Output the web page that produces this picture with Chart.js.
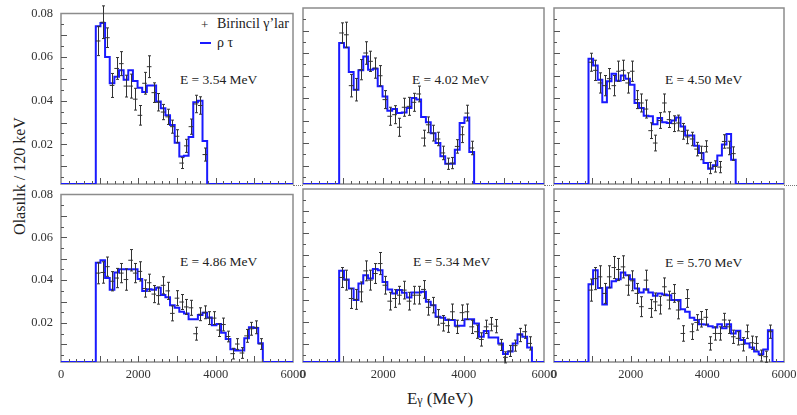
<!DOCTYPE html>
<html>
<head>
<meta charset="utf-8">
<script src="https://cdn.jsdelivr.net/npm/chart.js@4.4.0/dist/chart.umd.min.js"></script>
<style>
body { margin: 0; background: #fff; width: 797px; height: 415px; position: relative; overflow: hidden; font-family: "Liberation Serif", serif; color: #222; }
canvas { position: absolute; }
.lbl { position: absolute; white-space: nowrap; line-height: 1; transform: translateY(-50%); }
.dot { position: absolute; height: 0; border-top: 1px dotted #777; }
</style>
</head>
<body>
<div class="lbl" style="left:180px;top:80px;font-size:13.5px">E = 3.54 MeV</div>
<div class="lbl" style="left:412px;top:80px;font-size:13.5px">E = 4.02 MeV</div>
<div class="lbl" style="left:665px;top:80px;font-size:13.5px">E = 4.50 MeV</div>
<div class="lbl" style="left:180px;top:262px;font-size:13.5px">E = 4.86 MeV</div>
<div class="lbl" style="left:413px;top:262px;font-size:13.5px">E = 5.34 MeV</div>
<div class="lbl" style="left:665px;top:263px;font-size:13.5px">E = 5.70 MeV</div>

<!-- legend -->
<div class="lbl" style="left:201px;top:24px;font-size:13px;color:#222">+</div>
<div class="lbl" style="left:217px;top:24px;font-size:14px">Birincil γ’lar</div>
<div style="position:absolute;left:200px;top:42px;width:11px;height:2px;background:#1a1aff"></div>
<div class="lbl" style="left:217px;top:43px;font-size:14px">ρ τ</div>

<!-- axis titles -->
<div style="position:absolute;left:20px;top:176px;transform:translate(-50%,-50%) rotate(-90deg);font-size:16px;white-space:nowrap">Olasılık / 120 keV</div>
<div style="position:absolute;left:440px;top:399px;transform:translate(-50%,-50%);font-size:17px;white-space:nowrap">E<span style="font-size:12px">γ</span> (MeV)</div>

<div class="dot" style="left:293px;top:185px;width:10px"></div>
<div class="dot" style="left:544px;top:185px;width:10px"></div>
<div class="dot" style="left:784px;top:185px;width:13px"></div>

<script>
// --- binning / axes ---
const BIN_W = 120;
const BIN_START = 900;
const X_MAX = 6000;
const Y_MIN = 0.0018;
const Y_MAX = 0.08;
const yLabels = [0.02, 0.04, 0.06, 0.08];
const xLabels = [0, 2000, 4000, 6000];

// --- E = 3.54 MeV ---
const fit354 = [0.0741,0.0756,0.060,0.048,0.051,0.054,0.0496,0.054,0.049,0.046,0.044,0.047,0.047,0.0396,0.0366,0.0333,0.0289,0.0207,0.0144,0.0148,0.0233,0.0393,0.040,0.0215];
const data354 = [0.0674,0.076,0.0689,0.047,0.0548,0.057,0.0467,0.0467,0.0407,0.0333,0.048,0.0556,0.0437,0.0393,0.0348,0.0326,0.0281,0.0237,0.0114,0.0193,0.0281,0.0385,0.0378,0.0153];
const err354 = [0.0067,0.0075,0.0045,0.0055,0.005,0.0055,0.005,0.0055,0.005,0.0045,0.005,0.005,0.0045,0.004,0.0035,0.0035,0.003,0.003,0.0025,0.003,0.0035,0.004,0.004,0.003];

// --- E = 4.02 MeV ---
const fit402 = [0.0644,0.0625,0.0516,0.0437,0.0523,0.0585,0.0526,0.053,0.0452,0.0407,0.0344,0.0351,0.0333,0.0336,0.0356,0.040,0.0393,0.0316,0.0292,0.0244,0.020,0.0141,0.0108,0.0108,0.017,0.0289,0.0314,0.016];
const data402 = [0.0689,0.0681,0.0455,0.0437,0.0526,0.060,0.0563,0.0533,0.0499,0.0393,0.0319,0.0326,0.027,0.0359,0.0363,0.0381,0.0418,0.0222,0.0281,0.0244,0.0218,0.0156,0.0108,0.0111,0.0185,0.0237,0.0333,0.0178];
const err402 = [0.0045,0.0056,0.005,0.005,0.0045,0.005,0.0045,0.0045,0.0045,0.004,0.004,0.004,0.004,0.004,0.004,0.004,0.0035,0.0035,0.0035,0.0035,0.003,0.003,0.0025,0.0025,0.003,0.0035,0.0035,0.003];

// --- E = 4.50 MeV ---
const fit450 = [0.0575,0.0544,0.0481,0.0381,0.0474,0.0508,0.0477,0.050,0.0486,0.0459,0.0378,0.0356,0.0321,0.0319,0.0284,0.0311,0.0292,0.0289,0.030,0.0314,0.0274,0.0233,0.0233,0.0188,0.0156,0.0111,0.0086,0.0101,0.0145,0.0193,0.024,0.0126];
const data450 = [0.0559,0.0523,0.0467,0.0455,0.0486,0.0455,0.0519,0.0523,0.0467,0.0519,0.0393,0.0378,0.0351,0.0255,0.020,0.030,0.0378,0.0304,0.0286,0.0289,0.0252,0.0227,0.0218,0.0173,0.0156,0.0185,0.0089,0.0096,0.0093,0.0207,0.0178,0.0153];
const err450 = [0.004,0.0045,0.0045,0.0045,0.0045,0.0045,0.0045,0.0045,0.0045,0.0045,0.004,0.004,0.004,0.0035,0.0035,0.0035,0.004,0.0035,0.0035,0.0035,0.0035,0.003,0.003,0.003,0.003,0.0025,0.0025,0.0025,0.0025,0.003,0.003,0.003];

// --- E = 4.86 MeV ---
const fit486 = [0.0481,0.0493,0.041,0.0355,0.0436,0.0451,0.0451,0.0451,0.0451,0.0406,0.035,0.0358,0.0355,0.0365,0.0331,0.032,0.0283,0.0271,0.0253,0.0245,0.0218,0.0218,0.0238,0.0248,0.0226,0.0189,0.0195,0.0155,0.0125,0.0077,0.0072,0.0072,0.0129,0.018,0.0177,0.0105];
const data486 = [0.0433,0.0436,0.0463,0.0395,0.041,0.0433,0.0403,0.0493,0.0433,0.0441,0.0361,0.0388,0.0335,0.0328,0.0376,0.035,0.0245,0.0316,0.0298,0.0275,0.0271,0.015,0.0241,0.025,0.0223,0.0223,0.0167,0.0193,0.0137,0.0057,0.0102,0.006,0.014,0.0173,0.018,0.0102];
const err486 = [0.005,0.005,0.0045,0.0045,0.0045,0.0045,0.005,0.005,0.0045,0.0045,0.004,0.004,0.004,0.004,0.004,0.004,0.0035,0.0035,0.0035,0.0035,0.0035,0.003,0.003,0.003,0.003,0.003,0.003,0.003,0.0025,0.0025,0.0025,0.0025,0.003,0.003,0.003,0.0025];

// --- E = 5.34 MeV ---
const fit534 = [0.043,0.0391,0.035,0.0298,0.0373,0.041,0.0395,0.0438,0.0433,0.038,0.0346,0.0328,0.0343,0.0331,0.031,0.0332,0.0332,0.0335,0.029,0.0275,0.0223,0.0218,0.0208,0.0208,0.0182,0.0182,0.0211,0.0211,0.0192,0.0132,0.0158,0.0129,0.0129,0.0102,0.0054,0.0065,0.0102,0.0143,0.0132,0.0084];
const data534 = [0.040,0.0388,0.0305,0.0301,0.0335,0.043,0.0388,0.0418,0.0463,0.0365,0.0293,0.0305,0.032,0.0343,0.0293,0.032,0.032,0.0346,0.0265,0.0275,0.022,0.0193,0.0182,0.0245,0.0177,0.0241,0.0245,0.0177,0.0155,0.012,0.0177,0.0189,0.018,0.0095,0.0039,0.0068,0.0092,0.014,0.0155,0.0102];
const err534 = [0.0045,0.0045,0.0045,0.0045,0.0045,0.0045,0.0045,0.0045,0.005,0.004,0.004,0.004,0.004,0.004,0.004,0.004,0.004,0.004,0.0035,0.0035,0.0035,0.0035,0.003,0.0035,0.003,0.0035,0.0035,0.003,0.003,0.003,0.003,0.003,0.003,0.0025,0.0025,0.0025,0.0025,0.003,0.003,0.003];

// --- E = 5.70 MeV ---
const fit570 = [0.037,0.0433,0.0353,0.0278,0.0355,0.0383,0.0392,0.0423,0.041,0.0392,0.035,0.0332,0.0347,0.0332,0.0317,0.0328,0.0323,0.032,0.0298,0.0298,0.0256,0.0245,0.0218,0.0208,0.0189,0.0188,0.018,0.0174,0.0189,0.017,0.0189,0.0147,0.0159,0.0117,0.0102,0.0084,0.0065,0.0053,0.0075,0.0162];
const data570 = [0.0343,0.0395,0.0403,0.0328,0.0403,0.0445,0.0436,0.0448,0.0365,0.0385,0.0328,0.0268,0.0388,0.026,0.029,0.0275,0.0358,0.0298,0.0328,0.0253,0.0147,0.0305,0.0155,0.0197,0.0211,0.022,0.0102,0.0147,0.0147,0.0208,0.0177,0.0132,0.0125,0.0098,0.0155,0.0105,0.0102,0.0047,0.0042,0.0155];
const err570 = [0.005,0.005,0.005,0.0045,0.005,0.005,0.005,0.005,0.0045,0.0045,0.0045,0.0045,0.0045,0.004,0.004,0.004,0.004,0.004,0.004,0.004,0.0035,0.004,0.0035,0.0035,0.0035,0.0035,0.003,0.003,0.003,0.003,0.003,0.003,0.003,0.003,0.003,0.003,0.003,0.0025,0.0025,0.003];

// panel grid (chart area in page pixels)
const cols = [{ l: 61, r: 293 }, { l: 303, r: 544 }, { l: 554, r: 784 }];
const rows = [{ t: 8, b: 184 }, { t: 189, b: 362 }];
const PAD_L = 50, PAD_R = 20, PAD_T = 10, PAD_B = 25;

const panels = [
    { fit: fit354, pts: data354, err: err354 },
    { fit: fit402, pts: data402, err: err402 },
    { fit: fit450, pts: data450, err: err450 },
    { fit: fit486, pts: data486, err: err486 },
    { fit: fit534, pts: data534, err: err534 },
    { fit: fit570, pts: data570, err: err570 }
];

// histogram as a step line, baseline on the axis minimum
function stepPoints(vals) {
    const pts = [{ x: 0, y: Y_MIN }];
    vals.forEach((v, i) => pts.push({ x: BIN_START + i * BIN_W, y: v }));
    pts.push({ x: BIN_START + vals.length * BIN_W, y: Y_MIN }, { x: X_MAX, y: Y_MIN });
    return pts;
}

// frame, inward ticks and error crosses
const framePlugin = {
    id: 'frame',
    beforeDatasetsDraw(chart) {
        const { ctx, chartArea: a } = chart;
        ctx.save();
        ctx.strokeStyle = '#8c8c8c';
        ctx.lineWidth = 1.5;
        ctx.strokeRect(a.left, a.top, a.right - a.left, a.bottom - a.top);
        ctx.restore();
    },
    afterDatasetsDraw(chart) {
        const { ctx, chartArea: a, scales: { x: xs, y: ys } } = chart;
        ctx.save();
        // error bars
        const ds = chart.data.datasets[1];
        ctx.strokeStyle = '#333';
        ctx.lineWidth = 1;
        chart.getDatasetMeta(1).data.forEach((el, i) => {
            const d = ds.data[i], e = ds.errors[i];
            const x = Math.round(el.x) + 0.5;
            const yT = ys.getPixelForValue(d.y + e), yB = ys.getPixelForValue(d.y - e);
            const xl = xs.getPixelForValue(d.x - BIN_W / 2), xr = xs.getPixelForValue(d.x + BIN_W / 2);
            ctx.beginPath();
            ctx.moveTo(x, yT); ctx.lineTo(x, yB);
            ctx.moveTo(x - 1.5, yT); ctx.lineTo(x + 1.5, yT);
            ctx.moveTo(x - 1.5, yB); ctx.lineTo(x + 1.5, yB);
            ctx.moveTo(xl, el.y); ctx.lineTo(xr, el.y);
            ctx.stroke();
        });
        // ticks
        ctx.strokeStyle = '#555';
        ctx.beginPath();
        for (let k = 1; k < 16; k++) {
            const y = Math.round(ys.getPixelForValue(k * 0.005)) + 0.5;
            ctx.moveTo(a.left, y); ctx.lineTo(a.left + (k % 2 ? 3 : 6), y);
        }
        for (let k = 1; k < 30; k++) {
            const x = Math.round(xs.getPixelForValue(k * 200)) + 0.5;
            ctx.moveTo(x, a.bottom); ctx.lineTo(x, a.bottom - (k % 5 ? 3 : 6));
        }
        ctx.stroke();
        ctx.restore();
    }
};

const tickFont = { family: '"Liberation Serif", "Times New Roman", serif', size: 12.5 };

panels.forEach((p, idx) => {
    const c = cols[idx % 3], r = rows[Math.floor(idx / 3)];
    const cv = document.createElement('canvas');
    const w = c.r - c.l + PAD_L + PAD_R, h = r.b - r.t + PAD_T + PAD_B;
    cv.width = w; cv.height = h;
    cv.style.left = (c.l - PAD_L) + 'px';
    cv.style.top = (r.t - PAD_T) + 'px';
    document.body.appendChild(cv);

    const showY = idx % 3 === 0, showX = idx >= 3;
    new Chart(cv.getContext('2d'), {
        type: 'scatter',
        data: {
            datasets: [
                { type: 'line', label: 'ρ τ', data: stepPoints(p.fit), stepped: 'before',
                  borderColor: '#1a1aff', borderWidth: 2, pointRadius: 0, fill: false },
                { label: 'Birincil γ’lar', errors: p.err,
                  data: p.pts.map((v, i) => ({ x: BIN_START + (i + 0.5) * BIN_W, y: v })),
                  pointRadius: 0, borderColor: '#333' }
            ]
        },
        options: {
            responsive: false, animation: false, devicePixelRatio: 1,
            layout: { padding: { top: PAD_T, right: PAD_R, left: 0, bottom: 0 } },
            plugins: { legend: { display: false }, tooltip: { enabled: false } },
            scales: {
                x: {
                    type: 'linear', min: 0, max: X_MAX,
                    grid: { display: false, drawTicks: false }, border: { display: false },
                    ticks: { display: showX, padding: 5, font: tickFont, color: '#333', maxRotation: 0,
                             callback: v => String(v) },
                    afterBuildTicks: s => { s.ticks = xLabels.map(v => ({ value: v })); },
                    afterFit: s => { s.height = PAD_B; }
                },
                y: {
                    min: Y_MIN, max: Y_MAX,
                    grid: { display: false, drawTicks: false }, border: { display: false },
                    ticks: { display: showY, padding: 8, font: tickFont, color: '#333',
                             callback: v => v.toFixed(2) },
                    afterBuildTicks: s => { s.ticks = yLabels.map(v => ({ value: v })); },
                    afterFit: s => { s.width = PAD_L; }
                }
            }
        },
        plugins: [framePlugin]
    });
});
</script>
</body>
</html>
